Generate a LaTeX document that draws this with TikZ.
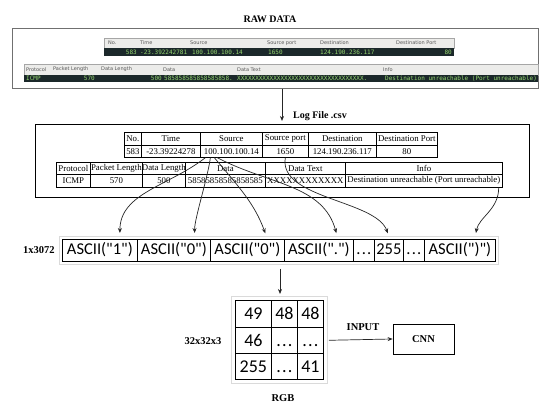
\documentclass[tikz,border=0pt]{standalone}
\usepackage{fontspec}
\setmainfont{Liberation Serif}
\newfontfamily\calibrifont{Carlito}
\newfontfamily\rawsansfont{DejaVu Sans}
\newfontfamily\rawmonofont{DejaVu Sans Mono}
\usetikzlibrary{arrows.meta,calc,positioning}
\definecolor{rawdark}{RGB}{27,40,42}
\definecolor{rawgreen}{RGB}{150,214,112}
\definecolor{rawhead}{RGB}{236,236,234}
\definecolor{rawframe}{RGB}{112,112,112}
\definecolor{gridfaint}{RGB}{218,218,218}
\newcommand{\tripledot}{.\kern1.2pt.\kern1.2pt.}
\tikzset{
  boldlabel/.style={inner sep=0pt, font=\bfseries\fontsize{10.5}{12}\selectfont},
  rawheadtext/.style={anchor=west, inner sep=0pt, text=black!65,
    font=\rawsansfont\fontsize{5}{6}\selectfont},
  rawdatatext/.style={inner sep=0pt, text=rawgreen,
    font=\rawmonofont\fontsize{6}{7}\selectfont},
  logcell/.style={draw, line width=.7pt, inner sep=0pt, anchor=north west,
    font=\fontsize{8.8}{10}\selectfont},
  asciicell/.style={draw, line width=.8pt, inner sep=0pt, anchor=north west,
    minimum height=22, text height=12pt, text depth=3.5pt,
    font=\calibrifont\fontsize{16.5}{19}\selectfont},
  mtxcell/.style={draw, line width=.8pt, inner sep=0pt, anchor=north west,
    text height=11.5pt, text depth=0pt,
    font=\calibrifont\fontsize{18}{20}\selectfont},
  flow/.style={-{Stealth[length=5pt,width=4pt]}, line width=.7pt,
    black!85, shorten >=6pt}
}
\begin{document}
\begin{tikzpicture}[x=1pt,y=1pt]
  \useasboundingbox (0,0) rectangle (539,403);

  % Screenshot of the captured packet.
  \node[boldlabel, font=\bfseries\fontsize{10}{12}\selectfont] (rawtitle)
    at (270,384) {RAW DATA};
  \node[draw=rawframe, line width=1pt, minimum width=526, minimum height=60,
    anchor=north west, inner sep=0pt] (raw) at (12,375) {};

  \fill[rawhead] (104,355) rectangle (454,365);
  \draw[black!35, line width=.4pt] (104,355) rectangle (454,365);
  \fill[rawdark] (104,347) rectangle (454,355);
  \foreach \hx/\htext in {108/No., 140/Time, 190/Source, 267/Source port,
      320/Destination, 396/Destination Port}
    \node[rawheadtext] (rawh-\hx) at (\hx,360) {\htext};
  \node[rawdatatext, anchor=east] (rawno) at (137,351) {583};
  \foreach \vx/\vtext in {140/-23.392242781, 192/100.100.100.14, 268/1650,
      320/124.190.236.117}
    \node[rawdatatext, anchor=west] (rawv-\vx) at (\vx,351) {\vtext};
  \node[rawdatatext, anchor=east] (rawport) at (452,351) {80};

  \fill[rawhead] (24,328) rectangle (538,339);
  \draw[black!35, line width=.4pt] (24,328) rectangle (538,339);
  \fill[rawdark] (24,321) rectangle (538,328);
  \foreach \hx/\htext in {26/Protocol, 53/Packet Length, 101/Data Length,
      163/Data, 237/Data Text, 383/Info}
    \node[rawheadtext] (rawh-\hx) at (\hx,333.5) {\htext};
  \node[rawdatatext, anchor=west] (rawproto) at (26,324.5) {ICMP};
  \node[rawdatatext, anchor=east] (rawplen) at (95,324.5) {570};
  \node[rawdatatext, anchor=east] (rawdlen) at (162,324.5) {500};
  \node[rawdatatext, anchor=west] (rawdata) at (164,324.5)
    {585858585858585858.};
  \node[rawdatatext, anchor=west] (rawtext) at (237,324.5)
    {XXXXXXXXXXXXXXXXXXXXXXXXXXXXXXXXXXX.};
  \node[rawdatatext, anchor=west] (rawinfo) at (385,324.5)
    {Destination unreachable (Port unreachable)};

  % Exported csv row.
  \node[draw, line width=.8pt, minimum width=494, minimum height=73,
    anchor=north west, inner sep=0pt] (log) at (35,279) {};
  \node[boldlabel, font=\bfseries\fontsize{10}{12}\selectfont, anchor=west]
    (loglabel) at (293,287) {Log File .csv};
  \coordinate (drop) at (282,0);
  \draw[flow, shorten >=3pt] (raw.south -| drop) -- (log.north -| drop);

  \foreach \cx/\cw/\chead/\cval/\cname in {124/17/No./583/no,
      141/59/Time/-23.39224278/time, 200/62/Source/100.100.100.14/src,
      262/46/Source port/1650/sport, 308/68/Destination/124.190.236.117/dst,
      376/61/Destination Port/80/dport}{
    \node[logcell, minimum width=\cw, minimum height=13] (\cname-h)
      at (\cx,271) {\makebox[0pt]{\chead}};
    \node[logcell, minimum width=\cw, minimum height=12] (\cname-v)
      at (\cx,258) {\makebox[0pt]{\cval}};
  }
  \foreach \cx/\cw/\chead/\cval/\cname in {56/34/Protocol/ICMP/proto,
      90/52/Packet Length/570/plen, 142/43/Data Length/500/dlen,
      185/80/Data/58585858585858585/data, 265/80/Data Text/XXXXXXXXXXXX/dtext,
      345/157/Info/Destination unreachable (Port unreachable)/info}{
    \node[logcell, minimum width=\cw, minimum height=12] (\cname-h)
      at (\cx,241) {\makebox[0pt]{\chead}};
    \node[logcell, minimum width=\cw, minimum height=13] (\cname-v)
      at (\cx,229) {\makebox[0pt]{\cval}};
  }

  % Flattened byte vector.
  \draw[gridfaint, line width=.6pt] (59,139) rectangle (498,167);
  \foreach \ax/\aw/\atext/\aname in {62/75/ASCII("1")/a1, 137/73/ASCII("0")/a2,
      210/74/ASCII("0")/a3, 284/69/ASCII(".")/a4, 353/21/\tripledot/a5,
      374/29/255/a6, 403/21/\tripledot/a7, 424/71/ASCII(")")/a8}
    \node[asciicell, minimum width=\aw] (\aname) at (\ax,164)
      {\makebox[0pt]{\atext}};
  \node[boldlabel] (veclabel) at (39,153) {1x3072};

  \draw[flow] ([xshift=-26]src-v.south) to[out=-142,in=90]
    ([xshift=20]a1.north);
  \draw[flow] ([xshift=-21]src-v.south) to[out=-97,in=92,looseness=.6]
    ([xshift=21]a2.north);
  \draw[flow] ([xshift=-17]src-v.south) to[out=-50,in=110]
    ([xshift=20]a3.north);
  \draw[flow] ([xshift=-14]src-v.south) to[out=-28,in=105]
    ([xshift=19]a4.north);
  \draw[flow] (sport-v.south) to[out=-100,in=110,looseness=.8]
    ([xshift=1]a6.north);
  \draw[flow] ([xshift=-4]info-v.south east) to[out=-90,in=80]
    ([xshift=15]a8.north);

  % Image tensor fed to the network.
  \draw[gridfaint, line width=.6pt] (231,20) rectangle (327,107);
  \foreach \mx/\my/\mw/\mh/\mtext/\mname in {235/103/36/27/49/m11,
      271/103/26/27/48/m12, 297/103/26/27/48/m13, 235/76/36/26/46/m21,
      271/76/26/26/\tripledot/m22, 297/76/26/26/\tripledot/m23,
      235/50/36/26/255/m31, 271/50/26/26/\tripledot/m32, 297/50/26/26/41/m33}
    \node[mtxcell, minimum width=\mw, minimum height=\mh] (\mname)
      at (\mx,\my) {\makebox[0pt]{\mtext}};
  \node[boldlabel] (mtxlabel) at (203,62) {32x32x3};
  \node[boldlabel] (rgblabel) at (283,5) {RGB};
  \coordinate (feed) at (280,0);
  \draw[flow, shorten <=7pt] (a3.south -| feed) -- (m12.north -| feed);

  \node[draw, line width=.7pt, minimum width=61, minimum height=30,
    font=\bfseries\fontsize{10.5}{12}\selectfont] (cnn) at (423.5,64) {CNN};
  \node[boldlabel] (inputlabel) at (363,76) {INPUT};
  \draw[flow, shorten <=5pt, shorten >=0pt] (m23.east) -- (cnn.west);
\end{tikzpicture}
\end{document}
